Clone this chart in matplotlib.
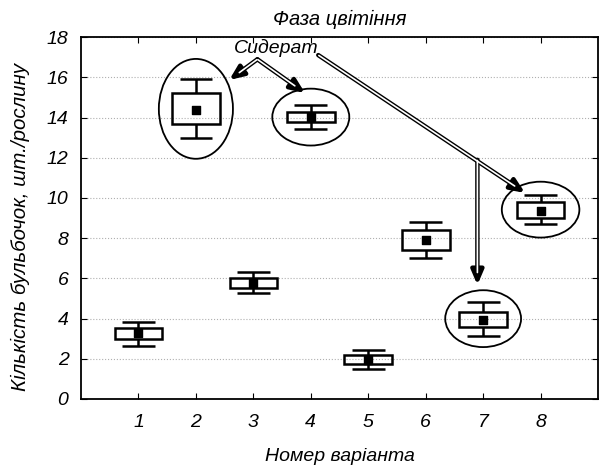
import numpy as np
import matplotlib
matplotlib.use('Agg')
import matplotlib.pyplot as plt
from matplotlib.patches import Rectangle, Ellipse

plt.rcParams['font.family'] = ['Liberation Sans', 'DejaVu Sans']
plt.rcParams['font.style'] = 'italic'

# дані по варіантах
variants = [1, 2, 3, 4, 5, 6, 7, 8]
means = [3.27, 14.4, 5.79, 14.05, 1.94, 7.91, 3.93, 9.37]
box_hi = [3.55, 15.2, 6.0, 14.29, 2.19, 8.41, 4.31, 9.82]
box_lo = [2.98, 13.7, 5.54, 13.77, 1.73, 7.41, 3.57, 9.02]
whisk_hi = [3.85, 15.9, 6.30, 14.63, 2.44, 8.82, 4.84, 10.15]
whisk_lo = [2.65, 12.97, 5.26, 13.42, 1.49, 7.0, 3.15, 8.69]

# сидерат - обведені варіанти
siderat = [2, 4, 7, 8]

fig = plt.figure(figsize=(6.09, 4.71), dpi=100)
ax = fig.add_axes([0.133, 0.153, 0.849, 0.768])

bw = 0.83
cw = 0.57
lw = 1.8
for x, m, bh, bl, wh, wl in zip(variants, means, box_hi, box_lo, whisk_hi, whisk_lo):
    ax.add_patch(Rectangle((x - bw / 2, bl), bw, bh - bl, fill=False, lw=lw, ec='black', zorder=3))
    ax.vlines(x, bh, wh, color='black', lw=lw, zorder=3)
    ax.vlines(x, wl, bl, color='black', lw=lw, zorder=3)
    ax.hlines([wh, wl], x - cw / 2, x + cw / 2, color='black', lw=lw, zorder=3)
ax.scatter(variants, means, marker='s', s=36, color='black', zorder=4)

# еліпси
ell_w = {2: 1.29, 4: 1.34, 7: 1.32, 8: 1.35}
ell_h = {2: 4.97, 4: 2.83, 7: 2.83, 8: 2.78}
for v in siderat:
    i = variants.index(v)
    cy = (whisk_hi[i] + whisk_lo[i]) / 2
    ax.add_patch(Ellipse((v, cy), ell_w[v], ell_h[v], fill=False, lw=1.3, ec='black', zorder=3))

ax.text(3.40, 17.45, 'Сидерат', fontsize=14, ha='center', va='center', zorder=5)


def double_arrow(start, end):
    ax.annotate('', xy=end, xytext=start,
                arrowprops=dict(arrowstyle='-|>,head_length=0.7,head_width=0.3', lw=3.2,
                                color='black', shrinkA=0, shrinkB=0, mutation_scale=12),
                zorder=5)
    ax.annotate('', xy=end, xytext=start,
                arrowprops=dict(arrowstyle='-', lw=1.2, color='white', shrinkA=0.5, shrinkB=9),
                zorder=6)


double_arrow((3.07, 16.9), (2.58, 15.87))
double_arrow((3.07, 16.9), (3.90, 15.22))
double_arrow((4.13, 17.11), (7.73, 10.25))
double_arrow((6.90, 11.9), (6.90, 5.67))

ax.set_xlim(0, 9)
ax.set_ylim(0, 18)
ax.set_xticks(variants)
ax.set_yticks(np.arange(0, 19, 2))
ax.tick_params(direction='in', top=True, right=True, length=4, labelsize=14)
ax.tick_params(axis='x', pad=11)
ax.tick_params(axis='y', pad=9)
ax.grid(axis='y', linestyle=':', color='#b0b0b0', lw=0.8)
for s in ax.spines.values():
    s.set_linewidth(1.3)

ax.set_title('Фаза цвітіння', fontsize=14.5, pad=9)
ax.set_xlabel('Номер варіанта', fontsize=14, labelpad=12)
ax.set_ylabel('Кількість бульбочок, шт./рослину', fontsize=14.8)
ax.yaxis.set_label_coords(-0.098, 0.475)

plt.savefig('out.png', dpi=100)
